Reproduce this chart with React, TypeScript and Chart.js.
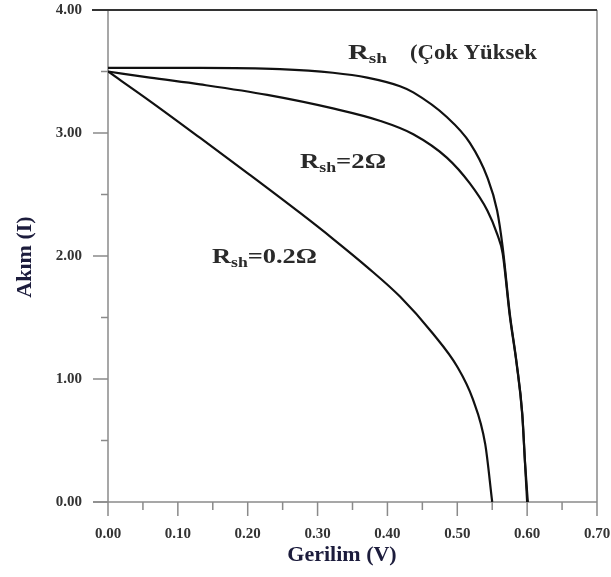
import React, { useEffect, useRef } from "react";
import { Chart, registerables } from "chart.js";
Chart.register(...registerables);

// ---- data ----
const X_TICK_VALUES = [0, 0.1, 0.2, 0.3, 0.4, 0.5, 0.6, 0.7];
const X_TICK_LABELS = ["0.00", "0.10", "0.20", "0.30", "0.40", "0.50", "0.60", "0.70"];
const Y_TICK_VALUES = [0, 1, 2, 3, 4];
const Y_TICK_LABELS = ["0.00", "1.00", "2.00", "3.00", "4.00"];

const V_HIGH = [0, 0.132, 0.246, 0.322, 0.371, 0.418, 0.437, 0.485, 0.518, 0.543, 0.557, 0.565, 0.575, 0.585, 0.593, 0.597, 0.601];
const I_HIGH = [3.53, 3.53, 3.52, 3.49, 3.45, 3.38, 3.33, 3.13, 2.92, 2.64, 2.37, 2.07, 1.54, 1.13, 0.72, 0.32, 0];

const V_2OHM = [0, 0.06, 0.132, 0.228, 0.322, 0.389, 0.437, 0.485, 0.518, 0.543, 0.557, 0.565, 0.575, 0.585, 0.593, 0.597, 0.6];
const I_2OHM = [3.5, 3.45, 3.395, 3.31, 3.2, 3.1, 2.99, 2.8, 2.59, 2.37, 2.18, 2.02, 1.52, 1.12, 0.71, 0.31, 0];

const V_02OHM = [0, 0.06, 0.132, 0.203, 0.275, 0.322, 0.371, 0.418, 0.465, 0.5, 0.522, 0.54, 0.55];
const I_02OHM = [3.5, 3.26, 2.96, 2.66, 2.35, 2.14, 1.91, 1.67, 1.37, 1.1, 0.84, 0.47, 0];

const X_TITLE = "Gerilim (V)";
const Y_TITLE = "Akım (I)";
const LABEL_HIGH = "(Çok Yüksek";
const LABEL_2OHM = "=2Ω";
const LABEL_02OHM = "=0.2Ω";

const toPts = (xs: number[], ys: number[]) => xs.map((x, i) => ({ x, y: ys[i] }));

const SERIF = "'Liberation Serif', 'Times New Roman', serif";

type Part = { text: string; sub?: boolean };

function drawParts(ctx: CanvasRenderingContext2D, parts: Part[], x: number, baseline: number, targetW: number, color: string) {
  const big = `bold 21px ${SERIF}`;
  const small = `bold 14px ${SERIF}`;
  let total = 0;
  const widths = parts.map((p) => {
    ctx.font = p.sub ? small : big;
    const w = ctx.measureText(p.text).width;
    total += w;
    return w;
  });
  const sx = targetW / total;
  ctx.save();
  ctx.translate(x, baseline);
  ctx.scale(sx, 1);
  ctx.fillStyle = color;
  ctx.textBaseline = "alphabetic";
  ctx.textAlign = "left";
  let cx = 0;
  parts.forEach((p, i) => {
    ctx.font = p.sub ? small : big;
    ctx.fillText(p.text, cx, p.sub ? 4 : 0);
    cx += widths[i];
  });
  ctx.restore();
}

const zeroPad = (s: any) => {
  s.paddingTop = 0;
  s.paddingBottom = 0;
  s.paddingLeft = 0;
  s.paddingRight = 0;
};

const framePlugin = {
  id: "frame",
  beforeDatasetsDraw(chart: any) {
    const { ctx, chartArea } = chart;
    const xs = chart.scales.x;
    const ys = chart.scales.y;
    const { left, right, top, bottom } = chartArea;
    ctx.save();
    ctx.lineCap = "butt";
    ctx.strokeStyle = "#8a8a8a";
    ctx.lineWidth = 1.5;
    ctx.beginPath();
    ctx.moveTo(left, top);
    ctx.lineTo(left, bottom);
    ctx.moveTo(left - 15, bottom);
    ctx.lineTo(right, bottom);
    ctx.moveTo(right, top);
    ctx.lineTo(right, bottom);
    ctx.stroke();
    ctx.beginPath();
    Y_TICK_VALUES.forEach((v, i) => {
      const py = ys.getPixelForValue(v);
      ctx.moveTo(left - 15, py);
      ctx.lineTo(left, py);
      if (i < Y_TICK_VALUES.length - 1) {
        const my = ys.getPixelForValue((v + Y_TICK_VALUES[i + 1]) / 2);
        ctx.moveTo(left - 7, my);
        ctx.lineTo(left, my);
      }
    });
    X_TICK_VALUES.forEach((v, i) => {
      const px = xs.getPixelForValue(v);
      ctx.moveTo(px, bottom);
      ctx.lineTo(px, bottom + 14);
      if (i < X_TICK_VALUES.length - 1) {
        const mx = xs.getPixelForValue((v + X_TICK_VALUES[i + 1]) / 2);
        ctx.moveTo(mx, bottom);
        ctx.lineTo(mx, bottom + 8);
      }
    });
    ctx.stroke();
    ctx.strokeStyle = "#333";
    ctx.lineWidth = 2;
    ctx.beginPath();
    ctx.moveTo(left - 16, top);
    ctx.lineTo(right, top);
    ctx.stroke();
    ctx.restore();
  },
  afterDraw(chart: any) {
    const { ctx } = chart;
    const tc = "#2a2a2a";
    drawParts(ctx, [{ text: "R" }, { text: "sh", sub: true }], 348, 59, 39, tc);
    drawParts(ctx, [{ text: LABEL_HIGH }], 410, 59, 127, tc);
    drawParts(ctx, [{ text: "R" }, { text: "sh", sub: true }, { text: LABEL_2OHM }], 300, 168, 86, tc);
    drawParts(ctx, [{ text: "R" }, { text: "sh", sub: true }, { text: LABEL_02OHM }], 212, 263, 105, tc);

    ctx.save();
    ctx.fillStyle = "#1c1c3c";
    ctx.font = `bold 22px ${SERIF}`;
    ctx.textAlign = "center";
    ctx.textBaseline = "middle";
    ctx.fillText(X_TITLE, 342, 555);
    ctx.translate(25, 257);
    ctx.rotate(-Math.PI / 2);
    ctx.fillText(Y_TITLE, 0, 0);
    ctx.restore();
  },
};

export default function App() {
  const ref = useRef<HTMLCanvasElement | null>(null);
  useEffect(() => {
    if (!ref.current) return;
    const lineStyle = {
      borderColor: "#111",
      borderWidth: 2.2,
      pointRadius: 0,
      fill: false,
      cubicInterpolationMode: "monotone" as const,
    };
    const chart = new Chart(ref.current, {
      type: "line",
      data: {
        datasets: [
          { label: "Rsh yüksek", data: toPts(V_HIGH, I_HIGH), ...lineStyle },
          { label: "Rsh=2Ω", data: toPts(V_2OHM, I_2OHM), ...lineStyle },
          { label: "Rsh=0.2Ω", data: toPts(V_02OHM, I_02OHM), ...lineStyle },
        ],
      },
      options: {
        animation: false,
        responsive: false,
        maintainAspectRatio: false,
        layout: { padding: { top: 10, right: 14, left: 0, bottom: 0 } },
        plugins: { legend: { display: false }, tooltip: { enabled: false } },
        scales: {
          x: {
            type: "linear",
            min: 0,
            max: 0.7,
            afterBuildTicks: (s: any) => {
              s.ticks = X_TICK_VALUES.map((v) => ({ value: v }));
            },
            afterFit: (s: any) => {
              s.height = 75;
              zeroPad(s);
            },
            ticks: {
              autoSkip: false,
              maxRotation: 0,
              padding: 23,
              color: "#333",
              font: { family: SERIF, size: 15, weight: "bold" },
              callback: (_v: any, i: number) => X_TICK_LABELS[i],
            },
            grid: { display: false, drawTicks: false },
            border: { display: false },
          },
          y: {
            type: "linear",
            min: 0,
            max: 4,
            afterBuildTicks: (s: any) => {
              s.ticks = Y_TICK_VALUES.map((v) => ({ value: v }));
            },
            afterFit: (s: any) => {
              s.width = 108;
              zeroPad(s);
            },
            ticks: {
              autoSkip: false,
              padding: 26,
              color: "#333",
              font: { family: SERIF, size: 15, weight: "bold" },
              callback: (_v: any, i: number) => Y_TICK_LABELS[i],
            },
            grid: { display: false, drawTicks: false },
            border: { display: false },
          },
        },
      },
      plugins: [framePlugin],
    });
    return () => chart.destroy();
  }, []);
  return (
    <div style={{ position: "fixed", left: 0, top: 0, width: 611, height: 577, background: "#fff" }}>
      <canvas ref={ref} width={611} height={577} style={{ display: "block" }} />
    </div>
  );
}
